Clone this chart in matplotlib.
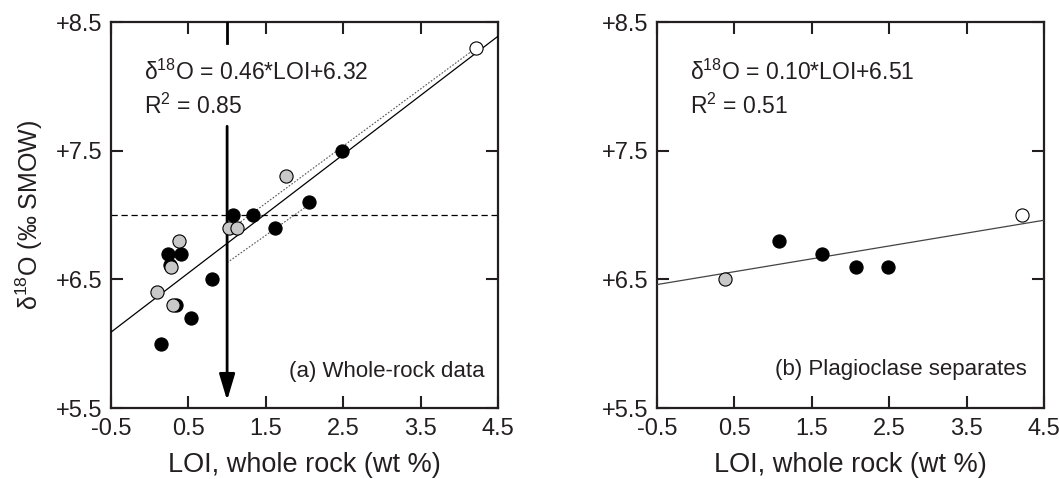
"""Oxygen isotope ratio versus loss on ignition: whole rock and plagioclase."""

import matplotlib
matplotlib.use("Agg")
import matplotlib.pyplot as plt
import numpy as np

# (a) whole-rock data
rock_black_x = [0.15, 0.54, 0.34, 0.80, 0.26, 0.24, 0.41, 1.08, 1.34, 1.62, 2.06, 2.48]
rock_black_y = [6.00, 6.20, 6.30, 6.50, 6.61, 6.70, 6.70, 7.00, 7.00, 6.90, 7.10, 7.50]
rock_gray_x = [0.10, 0.30, 0.28, 0.38, 1.02, 1.13, 1.76]
rock_gray_y = [6.40, 6.30, 6.60, 6.80, 6.90, 6.90, 7.30]
rock_white_x = [4.22]
rock_white_y = [8.30]
rock_fit = (0.46, 6.32, 0.85)
rock_threshold = 7.0
rock_cutoff_loi = 1.0
# dotted guide segments (x0, x1), (y0, y1)
guide_upper = ([1.0, 4.22], [6.87, 8.30])
guide_lower = ([1.0, 2.08], [6.63, 7.09])

# (b) plagioclase separates
plag_black_x = [1.08, 1.63, 2.07, 2.48]
plag_black_y = [6.80, 6.70, 6.60, 6.60]
plag_gray_x = [0.38]
plag_gray_y = [6.50]
plag_white_x = [4.22]
plag_white_y = [7.00]
plag_fit = (0.10, 6.51, 0.51)

x_ticks = [-0.5, 0.5, 1.5, 2.5, 3.5, 4.5]
y_ticks = [5.5, 6.5, 7.5, 8.5]

plt.rcParams.update({
    "font.family": ["Liberation Sans", "DejaVu Sans"],
    "mathtext.fontset": "custom",
    "mathtext.rm": "Liberation Sans",
    "axes.unicode_minus": False,
    "font.size": 16,
})

INK = "#231f20"
fig = plt.figure(figsize=(10.59, 4.79), dpi=100)
ax_a = fig.add_axes([0.1048, 0.148, 0.3655, 0.806])
ax_b = fig.add_axes([0.6204, 0.148, 0.3655, 0.806])

MS = 90


def style_axis(ax):
    ax.set_xlim(-0.5, 4.5)
    ax.set_ylim(5.5, 8.5)
    ax.set_xticks(x_ticks)
    ax.set_yticks(y_ticks)
    ax.set_xticklabels([f"{v:.1f}" for v in x_ticks])
    ax.set_yticklabels([f"+{v:.1f}" for v in y_ticks])
    ax.tick_params(direction="in", length=8.5, width=1.5, top=True, right=True,
                   labelsize=17, color=INK, labelcolor=INK)
    ax.tick_params(axis="x", pad=7)
    ax.tick_params(axis="y", pad=6)
    for spine in ax.spines.values():
        spine.set_linewidth(1.6)
        spine.set_color(INK)
    ax.set_xlabel("LOI, whole rock (wt %)", fontsize=19.5, labelpad=9, color=INK)


def scatter_groups(ax, bx, by, gx, gy, wx, wy):
    ax.scatter(bx, by, s=MS, c="#000000", edgecolors="#000000", linewidths=0.8, zorder=4)
    ax.scatter(gx, gy, s=MS, c="#c8c8c8", edgecolors="#000000", linewidths=0.8, zorder=5)
    ax.scatter(wx, wy, s=MS, c="#ffffff", edgecolors="#000000", linewidths=0.8, zorder=5)


def fit_text(ax, fit):
    slope, icpt, r2 = fit
    ax.text(-0.07, 8.05, rf"$\mathregular{{δ^{{18}}O}}$ = {slope:.2f}*LOI+{icpt:.2f}",
            fontsize=16.5, color=INK, zorder=6)
    ax.text(-0.07, 7.79, rf"$\mathregular{{R^{{2}}}}$ = {r2:.2f}",
            fontsize=16.5, color=INK, zorder=6)


# panel (a)
style_axis(ax_a)
xs = np.array([-0.5, 4.5])
ax_a.plot(xs, rock_fit[0] * xs + rock_fit[1], color="#000000", lw=0.9, zorder=3)
ax_a.axhline(rock_threshold, color="#000000", lw=0.9, ls=(0, (5, 3)), zorder=2)
ax_a.plot(*guide_upper, color="#555555", lw=0.8, ls=(0, (1.5, 1.5)), zorder=2)
ax_a.plot(*guide_lower, color="#555555", lw=0.8, ls=(0, (1.5, 1.5)), zorder=2)
ax_a.plot([rock_cutoff_loi, rock_cutoff_loi], [8.5, 8.34], color="#000000", lw=2, zorder=3)
ax_a.annotate("", xy=(rock_cutoff_loi, 5.56), xytext=(rock_cutoff_loi, 7.69),
              arrowprops=dict(arrowstyle="-|>,head_length=0.8,head_width=0.24",
                              color="#000000", lw=2, shrinkA=0, shrinkB=0,
                              mutation_scale=20),
              zorder=3)
scatter_groups(ax_a, rock_black_x, rock_black_y, rock_gray_x, rock_gray_y,
               rock_white_x, rock_white_y)
fit_text(ax_a, rock_fit)
ax_a.text(4.33, 5.74, "(a) Whole-rock data", ha="right", va="baseline",
          fontsize=16, color=INK)
ax_a.set_ylabel(r"$\mathregular{δ^{18}O}$ (‰ SMOW)", fontsize=18, labelpad=8,
                color=INK)

# panel (b)
style_axis(ax_b)
ax_b.plot(xs, plag_fit[0] * xs + plag_fit[1], color="#444444", lw=0.9, zorder=3)
scatter_groups(ax_b, plag_black_x, plag_black_y, plag_gray_x, plag_gray_y,
               plag_white_x, plag_white_y)
fit_text(ax_b, plag_fit)
ax_b.text(4.28, 5.76, "(b) Plagioclase separates", ha="right", va="baseline",
          fontsize=16, color=INK)

fig.savefig("out.png", dpi=100)
